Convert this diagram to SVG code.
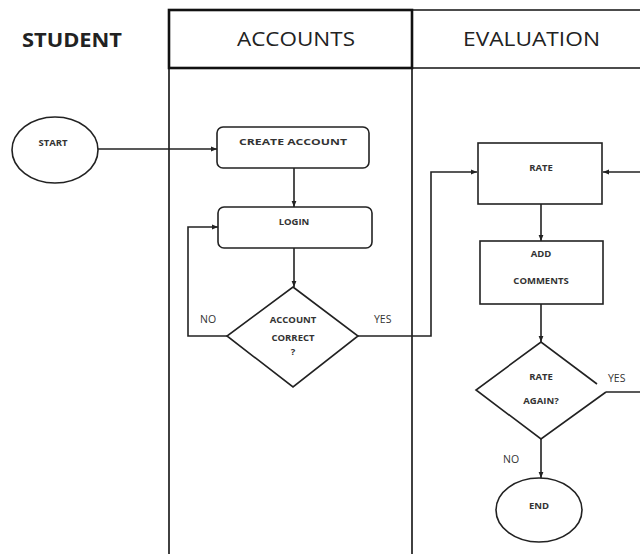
<svg xmlns="http://www.w3.org/2000/svg" width="640" height="554" viewBox="0 0 640 554">
  <style>
    .lane { fill: none; stroke: #111; stroke-width: 1.6; }
    .lane-bold { fill: none; stroke: #111; stroke-width: 2.6; }
    .shape { fill: #fff; stroke: #222; stroke-width: 1.6; }
    .wire { fill: none; stroke: #222; stroke-width: 1.6; }
    .head { font-family: "Open Sans", "Liberation Sans", sans-serif; font-size: 20px; fill: #222; }
    .lbl { font-family: "Open Sans", "Liberation Sans", sans-serif; font-size: 9.5px; font-weight: bold; fill: #333; text-anchor: middle; }
    .tag { font-family: "Open Sans", "Liberation Sans", sans-serif; font-size: 10.5px; fill: #333; }
  </style>
  <defs>
    <marker id="arrow" viewBox="0 0 10 10" refX="10" refY="5" markerWidth="6" markerHeight="6" orient="auto" markerUnits="userSpaceOnUse">
      <path d="M0,1 L10,5 L0,9 z" fill="#222"/>
    </marker>
  </defs>
  <rect width="640" height="554" fill="#fff"/>

  <!-- swimlanes -->
  <g id="lanes">
    <line class="lane" x1="412" y1="10" x2="640" y2="10"/>
    <line class="lane" x1="412" y1="68" x2="640" y2="68"/>
    <line class="lane" x1="169" y1="68" x2="169" y2="554"/>
    <line class="lane" x1="412" y1="68" x2="412" y2="554"/>
    <rect class="lane-bold" x="169" y="10" width="243" height="58"/>
    <text class="head" x="22" y="47" font-weight="bold" font-size="17" textLength="100" lengthAdjust="spacingAndGlyphs">STUDENT</text>
    <text class="head" x="237" y="46" textLength="118" lengthAdjust="spacingAndGlyphs">ACCOUNTS</text>
    <text class="head" x="463" y="46" textLength="137" lengthAdjust="spacingAndGlyphs">EVALUATION</text>
  </g>

  <!-- connectors -->
  <g id="connectors">
    <path class="wire" d="M98,149 L217,149" marker-end="url(#arrow)"/>
    <path class="wire" d="M294,168 L294,207" marker-end="url(#arrow)"/>
    <path class="wire" d="M294,248 L294,287" marker-end="url(#arrow)"/>
    <path class="wire" d="M227,336 L188,336 L188,227 L218,227" marker-end="url(#arrow)"/>
    <path class="wire" d="M358,336 L431,336 L431,172 L477,172" marker-end="url(#arrow)"/>
    <path class="wire" d="M640,172 L603,172" marker-end="url(#arrow)"/>
    <path class="wire" d="M541,204 L541,241" marker-end="url(#arrow)"/>
    <path class="wire" d="M541,304 L541,342" marker-end="url(#arrow)"/>
    <path class="wire" d="M606,392 L640,392"/>
    <path class="wire" d="M541,439 L541,478" marker-end="url(#arrow)"/>
    <text class="tag" x="200" y="323">NO</text>
    <text class="tag" x="374" y="323">YES</text>
    <text class="tag" x="608" y="382">YES</text>
    <text class="tag" x="503" y="463">NO</text>
  </g>

  <g id="start">
    <ellipse class="shape" cx="55" cy="150" rx="43" ry="33"/>
    <text class="lbl" x="53" y="146">START</text>
  </g>

  <g id="create-account">
    <rect class="shape" x="217" y="127" width="152" height="41" rx="6"/>
    <text class="lbl" x="293" y="145" textLength="108" lengthAdjust="spacingAndGlyphs">CREATE ACCOUNT</text>
  </g>

  <g id="login">
    <rect class="shape" x="218" y="207" width="154" height="41" rx="6"/>
    <text class="lbl" x="294" y="225">LOGIN</text>
  </g>

  <g id="account-correct">
    <polygon class="shape" points="293,287 358,336 293,387 227,336"/>
    <text class="lbl" x="293" y="323" font-size="6.5">ACCOUNT</text>
    <text class="lbl" x="293" y="341" font-size="6.5">CORRECT</text>
    <text class="lbl" x="293" y="355" font-size="6.5">?</text>
  </g>

  <g id="rate">
    <rect class="shape" x="478" y="143" width="124" height="61"/>
    <text class="lbl" x="541" y="171">RATE</text>
  </g>

  <g id="add-comments">
    <rect class="shape" x="480" y="241" width="123" height="63"/>
    <text class="lbl" x="541" y="257">ADD</text>
    <text class="lbl" x="541" y="284">COMMENTS</text>
  </g>

  <g id="rate-again">
    <path fill="#fff" d="M541,342 L606,391 L541,439 L476,390 z"/>
    <path class="wire" d="M597,384 L541,342 L476,390 L541,439 L606,392"/>
    <text class="lbl" x="541" y="380">RATE</text>
    <text class="lbl" x="541" y="404">AGAIN?</text>
  </g>

  <g id="end">
    <ellipse class="shape" cx="539" cy="510" rx="43" ry="32"/>
    <text class="lbl" x="539" y="509">END</text>
  </g>
</svg>
